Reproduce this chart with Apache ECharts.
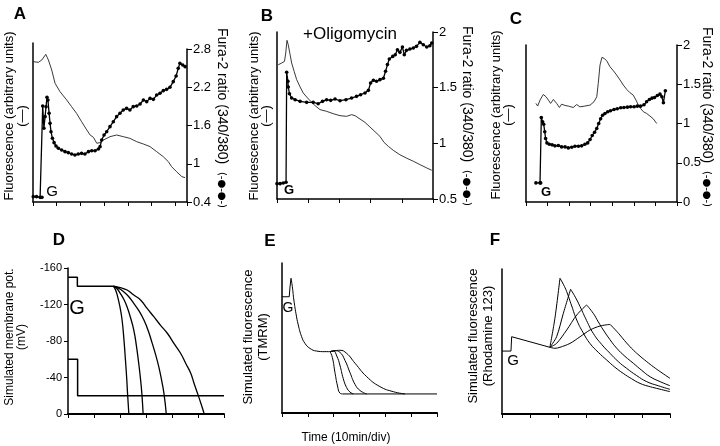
<!DOCTYPE html>
<html><head><meta charset="utf-8">
<script src="https://cdn.jsdelivr.net/npm/echarts@6/dist/echarts.min.js"></script>
<style>html,body{margin:0;padding:0;background:#fff}#c{width:720px;height:446px}</style>
</head><body><div id="c"></div>
<script>
// ---------- DATA ----------
// Panel A (x: minutes, fluor: arbitrary 0-100, ratio: Fura-2 340/380)
const aRatioTicks = [0.4, 1, 1.6, 2.2, 2.8];
const aTimeMax = 65;
const aFluor = [[0.1,91.7],[2.3,91.3],[3.7,92.8],[5.4,96.5],[6.5,92.8],[7.9,86.3],[9.3,77.6],[11.4,72.1],[14.2,66.7],[16.3,62.3],[18.4,57.9],[20.5,52.5],[22.7,47.1],[24.1,43.8],[25.5,42.3],[26.9,38.4],[28.3,38.8],[29.7,40.5],[32.5,42.7],[35.3,43.8],[38.1,42.7],[40.9,41.6],[43.8,39.4],[46.6,37.9],[49.4,36.2],[52.2,32.9],[55.0,29.6],[57.1,26.4],[58.5,23.1],[60.6,19.8],[62.8,16.6],[64.2,15.9]];
const aRatio = [[0.1,0.484],[1.5,0.484],[3.0,0.473],[3.8,0.473],[4.1,1.906],[4.6,1.556],[5.1,1.739],[5.5,1.895],[5.9,2.042],[6.3,2.0],[6.8,1.791],[7.2,1.634],[7.6,1.503],[8.2,1.399],[8.9,1.331],[9.7,1.278],[10.7,1.242],[12.1,1.216],[13.5,1.19],[14.9,1.174],[16.3,1.153],[17.7,1.137],[19.1,1.153],[20.5,1.163],[21.9,1.153],[23.4,1.19],[24.8,1.205],[26.2,1.205],[27.6,1.231],[28.3,1.268],[29.0,1.373],[30.0,1.451],[31.1,1.503],[32.5,1.582],[33.9,1.66],[35.3,1.739],[36.7,1.791],[38.1,1.843],[39.5,1.869],[40.9,1.843],[42.3,1.896],[43.8,1.906],[45.2,1.937],[46.6,2.0],[48.0,1.974],[49.4,2.026],[50.8,2.01],[52.2,2.078],[53.6,2.105],[55.0,2.147],[56.4,2.167],[57.8,2.199],[59.2,2.288],[60.4,2.377],[61.3,2.497],[62.0,2.575],[63.2,2.549],[64.2,2.523]];
// Panel B
const bRatioTicks = [0.5, 1, 1.5, 2];
const bTimeMax = 50;
const bFluor = [[0.4,80.4],[1.5,81.4],[2.4,82.4],[2.8,87.4],[3.2,95.0],[3.6,92.4],[4.2,86.4],[4.7,81.4],[5.5,76.4],[6.3,71.5],[7.4,67.1],[8.4,63.5],[9.5,61.1],[10.8,58.5],[12.2,55.9],[13.8,53.5],[15.9,52.5],[18.0,51.1],[20.2,49.9],[22.3,49.5],[23.9,50.5],[25.0,49.9],[26.6,47.9],[28.2,45.9],[29.8,43.1],[31.4,40.3],[33.0,37.5],[34.3,33.9],[35.7,31.5],[37.3,29.1],[39.4,26.5],[41.5,24.5],[43.7,22.6],[45.8,20.6],[48.0,18.6],[49.6,17.2]];
const bRatio = [[0,0.638],[1.0,0.638],[2.0,0.644],[2.9,0.65],[3.1,1.638],[3.5,1.557],[3.6,1.506],[4.0,1.446],[4.7,1.407],[5.8,1.392],[7.4,1.377],[9.5,1.368],[11.6,1.368],[13.2,1.356],[14.6,1.377],[15.9,1.392],[17.2,1.386],[18.6,1.398],[20.2,1.383],[22.1,1.392],[23.9,1.407],[25.5,1.422],[26.8,1.437],[28.2,1.452],[29.3,1.476],[30.0,1.542],[30.9,1.566],[31.9,1.557],[33.0,1.572],[34.1,1.584],[34.8,1.647],[35.4,1.707],[36.0,1.757],[37.1,1.781],[37.9,1.796],[38.6,1.841],[39.4,1.817],[40.2,1.865],[40.8,1.796],[41.5,1.835],[42.6,1.847],[43.7,1.856],[44.7,1.871],[45.8,1.907],[46.9,1.886],[48.0,1.865],[49.0,1.877],[49.6,1.901]];
// Panel C
const cRatioTicks = [0, 0.5, 1, 1.5, 2];
const cTimeMax = 70;
const cFluor = [[4.6,62.8],[5.4,61.1],[6.5,64.9],[8.0,68.5],[9.3,67.0],[10.4,64.9],[11.4,62.8],[12.7,65.3],[14.2,62.8],[15.5,60.2],[16.5,62.3],[18.1,61.5],[19.6,61.1],[21.9,60.2],[23.5,62.1],[25.0,60.6],[27.3,61.1],[29.7,61.7],[31.5,63.8],[32.8,67.0],[33.5,75.5],[34.3,87.2],[35.2,92.1],[36.2,91.5],[37.4,90.0],[38.9,86.2],[40.5,83.6],[42.0,80.9],[43.6,77.7],[45.1,74.5],[46.7,71.7],[48.2,69.6],[49.7,68.1],[51.0,64.9],[52.1,61.7],[53.1,59.6],[54.4,57.5],[55.9,56.4],[57.5,54.7],[59.0,53.0],[60.6,50.0]];
const cRatio = [[4.6,0.243],[6.5,0.243],[6.8,0.243],[7.1,1.077],[7.7,1.021],[8.2,0.991],[8.7,0.894],[9.1,0.808],[9.7,0.753],[10.8,0.736],[12.1,0.728],[13.4,0.715],[15.0,0.719],[16.5,0.702],[18.1,0.702],[19.6,0.689],[21.2,0.698],[22.7,0.711],[24.3,0.711],[25.8,0.715],[27.3,0.736],[28.6,0.753],[29.7,0.796],[30.7,0.847],[31.8,0.889],[32.8,0.936],[33.7,1.0],[34.6,1.06],[35.5,1.106],[36.6,1.128],[37.9,1.149],[39.2,1.162],[40.8,1.179],[42.3,1.187],[43.9,1.2],[45.4,1.204],[47.0,1.208],[48.5,1.213],[50.1,1.213],[51.6,1.221],[53.1,1.221],[54.7,1.238],[55.9,1.277],[57.2,1.306],[58.4,1.323],[59.6,1.332],[60.9,1.357],[62.1,1.374],[63.0,1.34],[63.7,1.264],[64.6,1.417]];
// Panel D (simulated membrane potential, mV)
const dPotTicks = [-160, -120, -80, -40, 0];
const dUpper = [[0,-150],[3.6,-150],[3.6,-140],[17.5,-140]];
const dLower = [[0,-60],[3.7,-60],[3.7,-20],[60,-20]];
const dCurve1 = [[17.5,-140],[18.3,-136],[19.1,-128.5],[20.0,-117],[20.8,-103],[21.5,-82],[22.1,-59],[22.6,-38],[22.9,-22.6],[23.4,0]];
const dCurve2 = [[17.5,-140],[18.8,-137.5],[20.1,-132.2],[21.4,-126],[22.7,-117.6],[24.0,-106],[25.3,-92],[26.3,-75],[27.2,-55.5],[27.9,-38],[28.4,-22.6],[28.9,0]];
const dCurve3 = [[17.5,-140],[19.4,-138],[21.4,-134],[23.4,-128.5],[25.3,-121.2],[27.3,-113],[29.2,-103],[30.9,-91],[32.4,-77.4],[33.7,-65],[34.9,-51.9],[36.0,-37],[36.9,-22.6],[37.8,0]];
const dCurve4 = [[17.5,-140],[20.1,-138.4],[22.7,-135.9],[25.3,-130.3],[27.9,-125],[30.5,-115.4],[33,-106.7],[35.6,-97.2],[38.2,-88.5],[40.8,-77.1],[43.3,-66.6],[45.3,-55.4],[47.2,-44.7],[48.5,-33.5],[49.8,-22.8],[51.1,-11.7],[52.4,0]];
// Panel E (simulated TMRM)
const eStep = [[0,77.5],[2.8,77.5],[3.1,84],[3.5,89.8]];
const eDecay = [[3.5,89.8],[4.0,84.2],[4.6,75.3],[5.4,66.4],[6.3,58.7],[7.6,50.9],[8.9,46.4],[10.8,43.1],[13.4,41.3],[16.6,40.9],[18.6,40.9]];
const eCurve1 = [[18.6,40.9],[19.5,37],[20.5,27],[21.5,18],[22.4,13.3],[23.5,12.7]];
const eCurve2 = [[18.6,40.9],[19.9,41.3],[21.2,38],[22.4,32],[23.7,23],[25,17],[26.3,14],[27.6,12.7]];
const eCurve3 = [[18.6,40.9],[20.5,41.5],[22.4,40.5],[24.4,35],[26.3,27],[28.3,19],[30.2,15],[32.8,12.7]];
const eCurve4 = [[18.6,40.9],[20.5,41.5],[22.4,41.8],[25,39.8],[28.3,33.1],[32.8,24.2],[37.9,17.6],[43.1,14.2],[47.6,12.7]];
const eBase = [[23.5,12.7],[60,12.7]];
// Panel F (simulated Rhodamine 123)
const fStep = [[0,43.4],[3.2,43.4],[3.45,53.3],[17.1,46.0]];
const fRise1 = [[17.1,46],[18.9,66],[20.7,93.6]];
const fFall1 = [[20.7,93.6],[21.9,89.5],[23.1,84.4],[24.9,74.5],[26.7,64.8],[29.0,56],[31.4,48.7],[34.4,42.5],[37.4,37.2],[40.3,32.3],[43.3,28],[46.3,24.3],[49.3,21.1],[52.2,19.2],[55.2,17.7],[60,15.4]];
const fRise2 = [[17.1,46],[19.5,53.3],[21.9,69.4],[24.5,86]];
const fFall2 = [[24.5,86],[26.2,80.5],[27.9,74],[30.2,64.5],[32.6,55.6],[35.6,48],[38.6,41.8],[41.5,36.2],[44.5,31.5],[48.1,26.5],[51.7,22.3],[55.8,19.5],[60,17]];
const fRise3 = [[17.1,46],[19.5,48.7],[23.1,57.9],[26.7,68.3],[30.2,75.2]];
const fFall3 = [[30.2,75.2],[32.6,69.4],[34.4,63.5],[36.2,57.9],[38.6,51.2],[41,45.3],[43.9,39.8],[46.9,35],[49.9,30.1],[52.9,25.7],[56.5,22.3],[60,19.5]];
const fRise4 = [[17.1,46],[18.9,45.3],[20.7,46],[24.3,48.7],[27.9,53.3],[31.4,57.9],[35,60.7],[38.6,61.8]];
const fFall4 = [[38.6,61.8],[40.4,58.2],[42.1,54.5],[44.5,49],[46.9,44.1],[49.3,39.9],[51.7,36.1],[54.1,32.5],[56.5,29.2],[60,24.6]];
const simTimeMax = 60;

// ---------- CHART ----------
const FONT = 'Liberation Sans';
const chart = echarts.init(document.getElementById('c'), null, {renderer:'canvas'});

function xAx(g, max, lw, hidden){
  return {type:'value', gridIndex:g, min:0, max:max, interval:10, position:'bottom', show:!hidden,
    axisLine:{show:true, onZero:false, lineStyle:{color:'#000', width:lw}},
    axisTick:{show:true, inside:false, length:4, lineStyle:{color:'#000', width:1}},
    axisLabel:{show:false}, splitLine:{show:false}};
}
function plainY(g, lw, noLine){
  return {type:'value', gridIndex:g, min:0, max:100, position:'left',
    axisLine:{show:!noLine, onZero:false, lineStyle:{color:'#000', width:lw}},
    axisTick:{show:false}, axisLabel:{show:false}, splitLine:{show:false}};
}
function ratioY(g, ticks){
  return {type:'value', gridIndex:g, position:'right', min:ticks[0], max:ticks[ticks.length-1], interval:ticks[1]-ticks[0],
    axisLine:{show:true, onZero:false, lineStyle:{color:'#000', width:1.5}},
    axisTick:{show:true, inside:false, length:5, lineStyle:{color:'#000', width:1}},
    axisLabel:{show:true, margin:6, color:'#000', fontSize:13, fontFamily:FONT},
    splitLine:{show:false}};
}
function ln(xi, yi, data, o){
  o = o || {};
  return {type:'line', xAxisIndex:xi, yAxisIndex:yi, data:data,
    showSymbol: !!o.sym, symbol:'circle', symbolSize:o.sym || 0,
    itemStyle:{color:'#000'}, smooth:o.smooth || false,
    lineStyle:{color:o.color || '#000', width:o.w || 1}, silent:true, z:o.z || 2};
}

const grids = [
  {left:33, top:49, width:154, height:153},   // A
  {left:277, top:32, width:156, height:167},  // B
  {left:526, top:45, width:151, height:157},  // C
  {left:68, top:268, width:156, height:146},  // D
  {left:282, top:263, width:155, height:150}, // E
  {left:502, top:269, width:168, height:145}, // F
  {left:33, top:43, width:154, height:159}    // A: taller left frame line
];

const xAxes = [xAx(0,aTimeMax,1.5), xAx(1,bTimeMax,1.5), xAx(2,cTimeMax,1.5),
  xAx(3,simTimeMax,2), xAx(4,simTimeMax,2), xAx(5,simTimeMax,2), xAx(6,aTimeMax,1,true)];

const dY = {type:'value', gridIndex:3, inverse:true, min:dPotTicks[0], max:dPotTicks[dPotTicks.length-1], interval:dPotTicks[1]-dPotTicks[0], position:'left',
  axisLine:{show:true, onZero:false, lineStyle:{color:'#000', width:1.5}},
  axisTick:{show:true, inside:false, length:4, lineStyle:{color:'#000', width:1}},
  axisLabel:{show:true, margin:6, color:'#000', fontSize:11, fontFamily:FONT},
  splitLine:{show:false}};

const yAxes = [
  plainY(0,1.5,true), ratioY(0,aRatioTicks),   // 0,1
  plainY(1,1.5), ratioY(1,bRatioTicks),   // 2,3
  plainY(2,1.5), ratioY(2,cRatioTicks),   // 4,5
  dY,                                     // 6
  plainY(4,1.5),                          // 7
  plainY(5,1.5),                          // 8
  plainY(6,1.5)                           // 9 (A frame)
];

const THIN = {w:0.9, color:'#222'};
const DOT = {w:1.3, sym:3.6, z:3};
const S = 0.5;
const series = [
  ln(0,0,aFluor,THIN), ln(0,1,aRatio,DOT),
  ln(1,2,bFluor,THIN), ln(1,3,bRatio,DOT),
  ln(2,4,cFluor,THIN), ln(2,5,cRatio,DOT),
  ln(3,6,dUpper,{w:1.5}), ln(3,6,dLower,{w:1.5}),
  ln(3,6,dCurve1,{w:1.3,smooth:S}), ln(3,6,dCurve2,{w:1.3,smooth:S}),
  ln(3,6,dCurve3,{w:1.3,smooth:S}), ln(3,6,dCurve4,{w:1.3,smooth:S}),
  ln(4,7,eStep,{w:1}), ln(4,7,eDecay,{w:1,smooth:S}),
  ln(4,7,eCurve1,{w:1,smooth:S}), ln(4,7,eCurve2,{w:1,smooth:S}),
  ln(4,7,eCurve3,{w:1,smooth:S}), ln(4,7,eCurve4,{w:1,smooth:S}),
  ln(4,7,eBase,{w:1}),
  ln(5,8,fStep,{w:1}),
  ln(5,8,fRise1,{w:1,smooth:0.3}), ln(5,8,fFall1,{w:1,smooth:S}),
  ln(5,8,fRise2,{w:1,smooth:0.3}), ln(5,8,fFall2,{w:1,smooth:S}),
  ln(5,8,fRise3,{w:1,smooth:0.3}), ln(5,8,fFall3,{w:1,smooth:S}),
  ln(5,8,fRise4,{w:1,smooth:0.3}), ln(5,8,fFall4,{w:1,smooth:S})
];

function txt(x, y, text, size, opt){
  opt = opt || {};
  return {type:'text', x:x, y:y, rotation:opt.rot || 0, silent:true, z:10,
    style:{text:text, fill:'#000', fontSize:size, fontFamily:FONT, fontWeight:opt.bold ? 'bold' : 'normal',
      align:'center', verticalAlign:'middle', lineHeight:opt.lh || size, rich:opt.rich}};
}
const UP = Math.PI/2, DOWN = -Math.PI/2;
const furaRich = {s:{fontSize:10, fontFamily:'DejaVu Sans', fill:'#000'}};
const graphics = [
  txt(20,14,'A',17,{bold:true}), txt(267,16,'B',17,{bold:true}), txt(516,19,'C',17,{bold:true}),
  txt(59,240,'D',17,{bold:true}), txt(270,241,'E',17,{bold:true}), txt(495,240,'F',17,{bold:true}),
  txt(15.5,116,'Fluorescence (arbitrary units)\n(—)',13,{rot:UP, lh:13}),
  txt(260,116,'Fluorescence (arbitrary units)\n(—)',13,{rot:UP, lh:12}),
  txt(502,115,'Fluorescence (arbitrary units)\n(—)',13,{rot:UP, lh:12}),
  txt(222,118,'Fura-2 ratio (340/380)  {s|(-●-●-)}',14,{rot:DOWN, rich:furaRich}),
  txt(467,116,'Fura-2 ratio (340/380)  {s|(-●-●-)}',14,{rot:DOWN, rich:furaRich}),
  txt(707,117,'Fura-2 ratio (340/380)  {s|(-●-●-)}',14,{rot:DOWN, rich:furaRich}),
  txt(16,337,'Simulated membrane pot.\n(mV)',12,{rot:UP, lh:12}),
  txt(255.5,337,'Simulated fluorescence\n(TMRM)',13,{rot:UP, lh:15}),
  txt(480.5,336,'Simulated fluorescence\n(Rhodamine 123)',13,{rot:UP, lh:15}),
  txt(350,34,'+Oligomycin',17),
  txt(346,438,'Time (10min/div)',12),
  txt(52,192,'G',15), txt(289,190,'G',13,{bold:true}), txt(546,192,'G',13,{bold:true}),
  txt(77,308,'G',20), txt(288,308,'G',14), txt(513,361,'G',15)
];

chart.setOption({
  animation:false,
  backgroundColor:'#fff',
  grid:grids, xAxis:xAxes, yAxis:yAxes, series:series, graphic:graphics
});
</script></body></html>
